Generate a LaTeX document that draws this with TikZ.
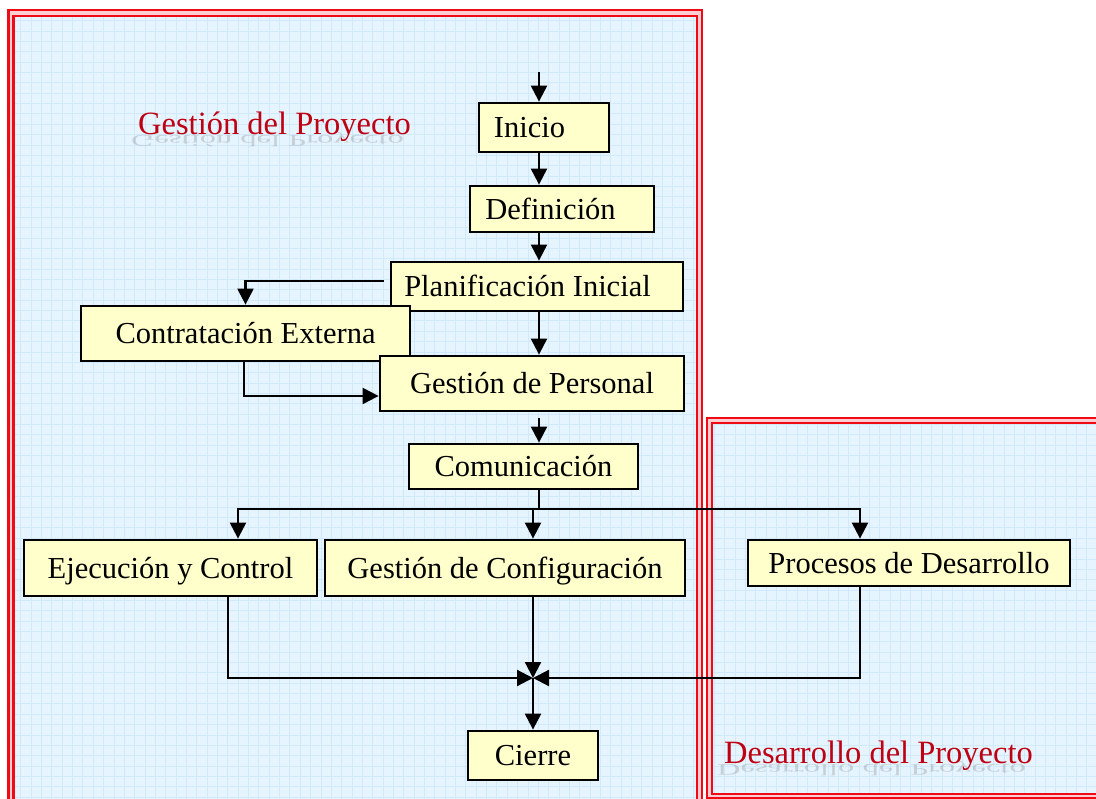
\documentclass[tikz,border=0pt]{standalone}
\usepackage{fontspec}
\setmainfont{Liberation Serif}
\usetikzlibrary{arrows.meta}
\definecolor{panelbg}{RGB}{229,244,254}
\definecolor{gridc}{RGB}{208,233,251}
\definecolor{framered}{RGB}{240,10,20}
\definecolor{framepink}{RGB}{252,205,210}
\definecolor{boxfill}{RGB}{255,255,204}
\definecolor{titlered}{RGB}{190,0,18}
\tikzset{
  box/.style={draw=black, line width=2.8pt, fill=boxfill, inner sep=0pt,
    font=\fontsize{30.5}{36}\selectfont, text height=20.2pt, text depth=0pt},
  conn/.style={line width=2.2pt, -{Triangle[length=16pt,width=16pt]}},
  plain/.style={line width=2.2pt},
  frameline/.style={draw=framered, line width=2.4pt},
  gridline/.style={draw=gridc, line width=0.7pt},
  paneltitle/.style={text=titlered, font=\fontsize{32.5}{38}\selectfont, inner sep=0pt, anchor=base west},
  reflect/.style={text=gray, opacity=0.3, font=\fontsize{32.5}{38}\selectfont, inner sep=0pt, anchor=base west, yscale=-0.5, transform shape}
}
\begin{document}
\begin{tikzpicture}[x=1pt,y=-1pt]
\useasboundingbox (0,0) rectangle (1096,799);
\fill[white] (0,0) rectangle (1096,799);
% left panel
\fill[framepink] (8.5,9.8) rectangle (701.7,805);
\fill[panelbg] (13.5,15.8) rectangle (697,800);
\begin{scope}
\clip (13.5,15.8) rectangle (697,799);
\draw[gridline, step=10.35pt] (13.5,15.8) grid (697,810);
\end{scope}
\draw[frameline] (8.5,9.8) rectangle (701.7,806);
\draw[frameline] (13.5,15.8) rectangle (697,800);
% right panel
\fill[framepink] (706.7,418) rectangle (1100,798);
\fill[panelbg] (711.7,423) rectangle (1100,793.7);
\begin{scope}
\clip (711.7,423) rectangle (1096,793.7);
\draw[gridline, step=10.35pt] (711.7,423) grid (1100,800);
\end{scope}
\draw[frameline] (706.7,418) rectangle (1105,798);
\draw[frameline] (711.7,423) rectangle (1105,793.7);
% titles
\node[reflect] (t1r) at (131,136) {Gestión del Proyecto};
\node[paneltitle] (t1) at (138,135) {Gestión del Proyecto};
\node[reflect] (t2r) at (717,764) {Desarrollo del Proyecto};
\node[paneltitle] (t2) at (724,763) {Desarrollo del Proyecto};
% boxes
\node[box, minimum width=130pt, minimum height=49pt] (inicio) at (544,127.5) {Inicio\hspace*{29pt}};
\node[box, minimum width=184pt, minimum height=46pt] (definicion) at (562,209) {Definición\hspace*{23pt}};
\node[box, minimum width=292pt, minimum height=49pt] (planif) at (537,286.5) {Planificación Inicial\hspace*{19pt}};
\node[box, minimum width=329pt, minimum height=55pt] (contrat) at (245.5,333.5) {Contratación Externa};
\node[box, minimum width=304pt, minimum height=55pt] (personal) at (532,383.5) {Gestión de Personal};
\node[box, minimum width=229pt, minimum height=45pt] (comunic) at (523.5,466.5) {Comunicación};
\node[box, minimum width=293pt, minimum height=56pt] (ejec) at (170.5,568) {Ejecución y Control};
\node[box, minimum width=360pt, minimum height=56pt] (config) at (505,568) {Gestión de Configuración};
\node[box, minimum width=322pt, minimum height=46pt] (procesos) at (909,563) {Procesos de Desarrollo};
\node[box, minimum width=130pt, minimum height=49pt] (cierre) at (533,755.5) {Cierre};
% connectors
\coordinate (entry) at (539,72);
\coordinate (split) at (539,509);
\coordinate (merge) at (533,678);
\draw[conn] (entry) -- (entry |- inicio.north);
\draw[conn] (entry |- inicio.south) -- (entry |- definicion.north);
\draw[conn] (entry |- definicion.south) -- (entry |- planif.north);
\draw[conn] ([xshift=-6pt,yshift=5.5pt]planif.west) -| (contrat.north);
\draw[conn] (entry |- planif.south) -- (entry |- personal.north);
\draw[conn] ([xshift=-1.5pt]contrat.south) |- ([yshift=-12.5pt]personal.west);
\draw[conn] ([yshift=-6pt]entry |- personal.south) -- (entry |- comunic.north);
\draw[plain] (entry |- comunic.south) -- (split);
\draw[conn] (split) -| ([xshift=67.5pt]ejec.north);
\draw[conn] (split) -| ([xshift=28pt]config.north);
\draw[conn] (split) -| ([xshift=-49pt]procesos.north);
\draw[conn] ([xshift=57.5pt]ejec.south) |- (merge);
\draw[conn] ([xshift=28pt]config.south) -- (merge);
\draw[conn] ([xshift=-49pt]procesos.south) |- (merge);
\draw[conn] (merge) -- (cierre.north);
\end{tikzpicture}
\end{document}
